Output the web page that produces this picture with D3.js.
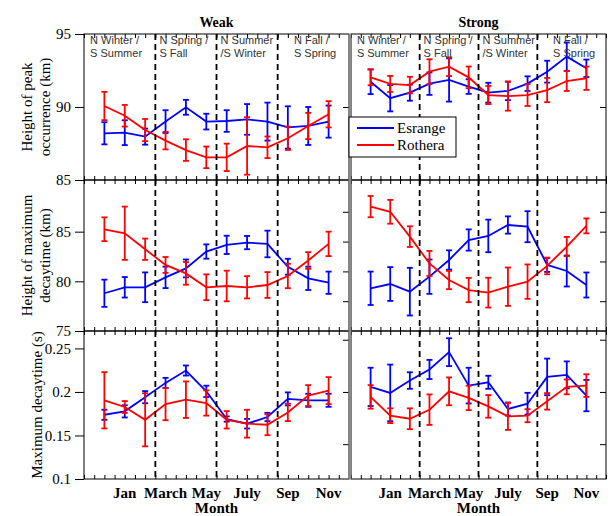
<!DOCTYPE html>
<html><head><meta charset="utf-8">
<script src="https://cdn.jsdelivr.net/npm/d3@7"></script>
<style>body{margin:0;background:#fff}svg{display:block}</style>
</head><body>
<script>
// ---------- DATA ----------
const months = ["Dec","Jan","Feb","Mar","Apr","May","Jun","Jul","Aug","Sep","Oct","Nov"];
const monthTickIdx = [1,3,5,7,9,11];
const monthTickLabels = ["Jan","March","May","July","Sep","Nov"];
const seasonBounds = [2.5,5.5,8.5];
const seasonLine1 = ["N Winter /","N Spring /","N Summer","N Fall /"];
const seasonLine2 = ["S Summer","S Fall","/S Winter","S Spring"];
const seasonPos = [-0.7,2.7,5.7,9.3];
const panelTitles = ["Weak","Strong"];
const seriesNames = ["Esrange","Rothera"];

// Height of peak occurrence (km)
const peakWeakEsr    = [88.2,88.24,87.97,89.0,89.98,89.0,89.04,89.15,89.0,88.6,88.7,89.0];
const peakWeakEsrErr = [0.76,0.85,0.55,0.78,0.51,0.54,0.74,1.05,1.3,1.45,1.3,1.1];
const peakWeakRot    = [90.07,89.4,88.42,87.7,87.05,86.55,86.55,87.33,87.24,87.86,88.7,89.5];
const peakWeakRotErr = [0.97,0.74,0.76,0.6,0.74,0.74,0.94,1.97,0.74,0.8,0.9,0.9];
const peakStrEsr     = [91.73,90.6,90.98,91.6,91.85,91.4,90.98,91.1,91.6,92.42,93.45,92.65];
const peakStrEsrErr  = [0.85,0.9,0.55,0.77,1.48,0.5,0.68,0.63,0.5,0.75,0.97,0.6];
const peakStrRot     = [92.03,91.58,91.5,92.42,92.76,92.03,90.82,90.75,90.82,91.16,91.78,91.97];
const peakStrRotErr  = [0.54,0.55,0.57,0.85,0.64,0.74,0.62,1.0,0.75,0.83,0.68,0.8];

// Height of maximum decaytime (km)
const hmaxWeakEsr    = [78.8,79.4,79.4,80.4,81.3,83.0,83.67,83.9,83.76,81.47,80.3,79.86];
const hmaxWeakEsrErr = [1.37,1.03,1.5,1.08,0.9,0.72,0.92,0.67,1.34,0.8,1.17,1.12];
const hmaxWeakRot    = [85.24,84.84,83.23,81.65,80.8,79.4,79.53,79.4,79.63,80.54,82.1,83.77];
const hmaxWeakRotErr = [1.2,2.68,1.07,0.8,1.14,1.3,1.54,1.12,1.3,1.23,0.84,1.23];
const hmaxStrEsr     = [79.3,79.73,78.96,80.47,82.15,84.16,84.57,85.67,85.5,81.65,81.04,79.63];
const hmaxStrEsrErr  = [1.68,1.7,2.4,1.73,0.97,1.07,1.64,0.87,1.56,0.7,1.56,1.26];
const hmaxStrRot     = [87.52,87.0,84.5,81.8,80.13,79.12,78.86,79.46,79.97,81.55,83.5,85.58];
const hmaxStrRotErr  = [1.07,1.2,1.04,1.26,0.92,1.22,1.5,1.93,1.73,0.84,0.97,0.75];

// Maximum decaytime (s)
const dtWeakEsr    = [0.1738,0.1777,0.194,0.2104,0.2246,0.2007,0.1689,0.1635,0.1712,0.192,0.1904,0.1904];
const dtWeakEsrErr = [0.0058,0.007,0.007,0.0058,0.0058,0.0065,0.003,0.0055,0.0048,0.0075,0.0075,0.0075];
const dtWeakRot    = [0.1904,0.1827,0.168,0.186,0.1911,0.1873,0.168,0.1635,0.1623,0.1765,0.1958,0.2015];
const dtWeakRotErr = [0.0323,0.0068,0.0305,0.0185,0.021,0.0145,0.01,0.016,0.012,0.01,0.012,0.0155];
const dtStrEsr     = [0.2058,0.1989,0.2131,0.2258,0.2457,0.2073,0.2111,0.1804,0.1865,0.2173,0.2196,0.1958];
const dtStrEsrErr  = [0.022,0.0325,0.0095,0.011,0.016,0.0205,0.0075,0.0075,0.0125,0.021,0.0155,0.018];
const dtStrRot     = [0.1943,0.1727,0.1692,0.1796,0.2007,0.1931,0.1834,0.1719,0.1727,0.1892,0.2058,0.2073];
const dtStrRotErr  = [0.0135,0.0085,0.012,0.0175,0.016,0.014,0.013,0.0155,0.0075,0.0095,0.0085,0.013];

// Axis ticks
const leftTicks = [[85,90,95],[75,80,85],[0.1,0.15,0.2,0.25]];
const rightTicksL = [[90],[78,81,84,87],[0.14,0.2,0.26]];
const rightTicksR = [[90],[78,82,85,87],[0.14,0.2,0.26]];
const rowLabels = [["Height of peak","occurrence (km)"],["Height of maximum","decaytime (km)"],["Maximum decaytime (s)"]];
const rowDomains = [[85,95],[75,90.2],[0.1,0.27]];

// ---------- LAYOUT ----------
const W=611,H=516;
const panelsX=[[84,349],[351,606]];
const rowsY=[[34,180],[180,331],[331,479]];
const BLUE="#0000ff", RED="#ff0000";
const serif="'Liberation Serif','Times New Roman',serif";
const sans="'Liberation Sans',Arial,sans-serif";

const data = [
  [[peakWeakEsr,peakWeakEsrErr,peakWeakRot,peakWeakRotErr],[peakStrEsr,peakStrEsrErr,peakStrRot,peakStrRotErr]],
  [[hmaxWeakEsr,hmaxWeakEsrErr,hmaxWeakRot,hmaxWeakRotErr],[hmaxStrEsr,hmaxStrEsrErr,hmaxStrRot,hmaxStrRotErr]],
  [[dtWeakEsr,dtWeakEsrErr,dtWeakRot,dtWeakRotErr],[dtStrEsr,dtStrEsrErr,dtStrRot,dtStrRotErr]]
];

const svg=d3.select("body").append("svg").attr("width",W).attr("height",H);

const xs = panelsX.map(p=>d3.scaleLinear().domain([-1,12]).range(p));
const ys = rowsY.map((r,i)=>d3.scaleLinear().domain(rowDomains[i]).range([r[1],r[0]]));

for(let r=0;r<3;r++){
  for(let c=0;c<2;c++){
    const x=xs[c], y=ys[r];
    const g=svg.append("g");
    const minor=d3.range(-1,12.01,0.5);
    const axT=d3.axisBottom(x).tickValues(minor).tickSize(4).tickFormat("");
    g.append("g").attr("transform",`translate(0,${rowsY[r][0]})`).call(axT)
      .call(a=>{a.select(".domain").remove();a.selectAll("line").attr("stroke","#000");});
    const axB=d3.axisTop(x).tickValues(minor).tickSize(4).tickFormat("");
    g.append("g").attr("transform",`translate(0,${rowsY[r][1]})`).call(axB)
      .call(a=>{a.select(".domain").remove();a.selectAll("line").attr("stroke","#000");});
    const rt = c===0?rightTicksL[r]:rightTicksR[r];
    const axR=d3.axisLeft(y).tickValues(rt).tickSize(6).tickFormat("");
    g.append("g").attr("transform",`translate(${panelsX[c][1]},0)`).call(axR)
      .call(a=>{a.select(".domain").remove();a.selectAll("line").attr("stroke","#000");});
    const [e,ee,ro,roe]=data[r][c];
    [[e,ee,BLUE],[ro,roe,RED]].forEach(([v,er,col])=>{
      const line=d3.line().x((d,i)=>x(i)).y(d=>y(d));
      g.append("path").attr("d",line(v)).attr("fill","none").attr("stroke",col).attr("stroke-width",1.8);
      const eb=g.append("g").attr("stroke",col).attr("stroke-width",1.8);
      v.forEach((d,i)=>{
        const cx=x(i), y1=y(d-er[i]), y2=y(d+er[i]);
        eb.append("line").attr("x1",cx).attr("x2",cx).attr("y1",y1).attr("y2",y2);
        eb.append("line").attr("x1",cx-3).attr("x2",cx+3).attr("y1",y1).attr("y2",y1);
        eb.append("line").attr("x1",cx-3).attr("x2",cx+3).attr("y1",y2).attr("y2",y2);
      });
    });
    seasonBounds.forEach(b=>{
      g.append("line").attr("x1",x(b)).attr("x2",x(b)).attr("y1",rowsY[r][0]).attr("y2",rowsY[r][1])
        .attr("stroke","#000").attr("stroke-width",1.8).attr("stroke-dasharray","6,4");
    });
    if(r===0){
      seasonPos.forEach((p,k)=>{
        g.append("text").attr("x",x(p)).attr("y",44).text(seasonLine1[k])
          .attr("font-family",sans).attr("font-size",11).attr("fill","#333");
        g.append("text").attr("x",x(p)).attr("y",56.5).text(seasonLine2[k])
          .attr("font-family",sans).attr("font-size",11).attr("fill","#333");
      });
    }
  }
  const axL=d3.axisLeft(ys[r]).tickValues(leftTicks[r]).tickSize(9).tickPadding(4)
    .tickFormat(d=>String(d));
  svg.append("g").attr("transform",`translate(${panelsX[0][0]},0)`).call(axL)
    .call(a=>{a.select(".domain").remove();
      a.selectAll("line").attr("stroke","#000");
      a.selectAll("text").attr("font-family",serif).attr("font-size",15).attr("fill","#000");});
  const cy=(rowsY[r][0]+rowsY[r][1])/2;
  const lines=rowLabels[r];
  lines.forEach((t,k)=>{
    const xx = lines.length===2 ? (k===0?27:45) : 37;
    svg.append("text").attr("transform",`translate(${xx},${cy}) rotate(-90)`)
      .attr("text-anchor","middle").attr("dy","0.35em").text(t)
      .attr("font-family",serif).attr("font-size",15).attr("fill","#000");
  });
}

panelsX.forEach((p,c)=>{
  svg.append("rect").attr("x",p[0]).attr("y",rowsY[0][0]).attr("width",p[1]-p[0]).attr("height",rowsY[2][1]-rowsY[0][0])
    .attr("fill","none").attr("stroke","#000").attr("stroke-width",1);
  [rowsY[0][1],rowsY[1][1]].forEach(yy=>{
    svg.append("line").attr("x1",p[0]).attr("x2",p[1]).attr("y1",yy).attr("y2",yy).attr("stroke","#000").attr("stroke-width",1.6);
  });
});
svg.append("line").attr("x1",350).attr("x2",350).attr("y1",rowsY[0][0]).attr("y2",rowsY[2][1])
  .attr("stroke","#888").attr("stroke-width",3);

xs.forEach((x,c)=>{
  monthTickIdx.forEach((m,k)=>{
    svg.append("text").attr("x",x(m)).attr("y",498).attr("text-anchor","middle").text(monthTickLabels[k])
      .attr("font-family",serif).attr("font-size",15).attr("font-weight","bold").attr("fill","#000");
  });
  const mid=(panelsX[c][0]+panelsX[c][1])/2;
  svg.append("text").attr("x",mid).attr("y",513).attr("text-anchor","middle").text("Month")
    .attr("font-family",serif).attr("font-size",15).attr("font-weight","bold");
  svg.append("text").attr("x",mid).attr("y",27).attr("text-anchor","middle").text(panelTitles[c])
    .attr("font-family",serif).attr("font-size",14).attr("font-weight","bold");
});

const lg=svg.append("g");
lg.append("rect").attr("x",349).attr("y",117).attr("width",107).attr("height",40).attr("fill","#fff").attr("stroke","#000");
[[BLUE,128],[RED,145]].forEach(([col,yy],k)=>{
  lg.append("line").attr("x1",357).attr("x2",394).attr("y1",yy).attr("y2",yy).attr("stroke",col).attr("stroke-width",1.8);
  lg.append("text").attr("x",397).attr("y",yy+5).text(seriesNames[k]).attr("font-family",serif).attr("font-size",15);
});
</script>
</body></html>
